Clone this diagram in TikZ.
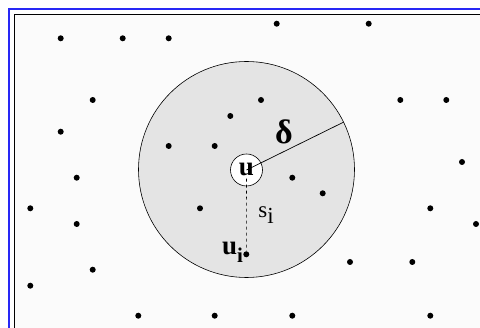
\documentclass[tikz,border=0pt]{standalone}
\usepackage{fontspec}
\setmainfont{Liberation Serif}
\usetikzlibrary{calc}
\definecolor{frameblue}{RGB}{40, 40, 245}
\definecolor{diskgray}{RGB}{228, 228, 228}

\begin{document}
\begin{tikzpicture}[x=1pt, y=-1pt,
  pt/.style={circle, fill=black, inner sep=0pt, minimum size=6pt},
  lbl/.style={inner sep=1pt, font=\fontsize{27}{27}\selectfont\bfseries}]
  \useasboundingbox (0,0) rectangle (480,328);
  \clip (0,0) rectangle (480,328);

  % frame
  \draw[frameblue, line width=2pt] (9,9) rectangle (520,360);
  \draw[black, line width=1.3pt, fill=gray!3] (14.5,14.5) rectangle (520,360);

  % disk of radius delta around u
  \node[draw, circle, fill=diskgray, minimum size=216pt, inner sep=0pt, line width=0.6pt] (disk) at (246.5,169.5) {};
  \node[draw, circle, fill=white, minimum size=32pt, inner sep=0pt, line width=0.6pt] (u) at (246.5,170) {};
  \node[lbl] (ulab) at ([yshift=1pt]u.center) {u};
  \draw[line width=0.7pt] (u.center) -- (disk.26);
  \node[font=\fontsize{34}{34}\selectfont\bfseries] (delta) at (284,132) {δ};

  % scattered nodes
  \foreach \x/\y [count=\k] in {60.7/38.3, 122.7/38.3, 168.7/38.3, 276.7/23.7, 368.7/23.7,
      92.7/100, 261/100, 400.3/100, 446.3/100, 230.3/116, 60.7/131.7, 168.7/146,
      214.7/146, 462/162, 76.7/177.7, 292.3/177.7, 322.7/193.3, 30.3/208.3,
      200/208.3, 430.3/208.3, 76.7/224, 476/224, 350/262, 412.3/262, 92.7/269.7,
      30.3/285.7, 138.3/315.7, 214.7/315.7, 292.3/315.7, 430.3/315.7}
    \node[pt] (p\k) at (\x,\y) {};

  % u_i and its distance s_i
  \node[pt] (ui) at (246.3,254.3) {};
  \draw[dashed, line width=0.6pt] ([yshift=-2pt]ulab.south) -- (ui);
  \node[inner sep=1pt, font=\fontsize{23}{23}\selectfont] (si) at (266,215) {s\raisebox{-6pt}{i}};
  \node[lbl, anchor=east] (uilab) at ([xshift=1pt,yshift=2pt]ui.west) {u\raisebox{-8pt}{\fontsize{21}{21}\selectfont i}};
\end{tikzpicture}
\end{document}
